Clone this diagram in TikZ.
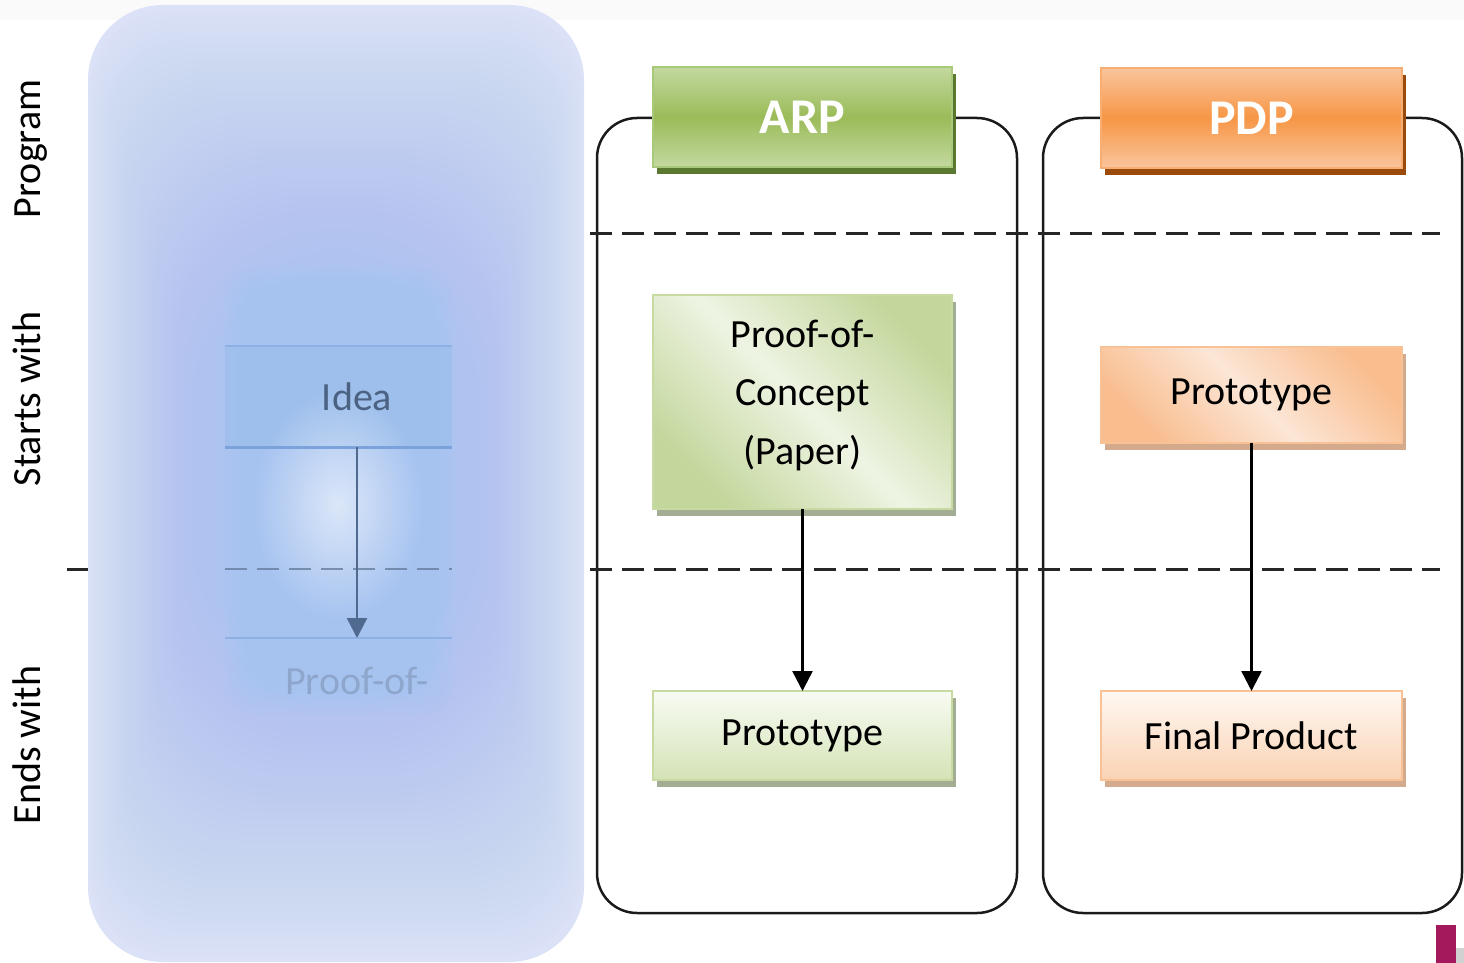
\documentclass[tikz,border=0pt]{standalone}
\usepackage{fontspec}
\setmainfont{Carlito}
\usetikzlibrary{arrows.meta,shadows,fadings}

\definecolor{panelC}{HTML}{AEC3F0}
\definecolor{panelE}{HTML}{DBE1F7}
\definecolor{ghost}{HTML}{A6CBF2}
\definecolor{bandc}{HTML}{98BCEA}
\definecolor{bandline}{HTML}{8DB1E4}
\definecolor{bandline2}{HTML}{7BA2DA}
\definecolor{ideatext}{HTML}{4B6282}
\definecolor{ghostarrow}{HTML}{4F6A8E}
\definecolor{ghostdash}{HTML}{5B7292}
\definecolor{ghosttext}{HTML}{8FA6CC}
\definecolor{framec}{HTML}{1A1A1A}
\definecolor{arplt}{HTML}{C3D99F}
\definecolor{arpmid}{HTML}{9BBB59}
\definecolor{arpbd}{HTML}{A9C97A}
\definecolor{arpsh}{HTML}{5B7830}
\definecolor{pdplt}{HTML}{F9C59C}
\definecolor{pdpmid}{HTML}{F79646}
\definecolor{pdpbd}{HTML}{F8AE72}
\definecolor{pdpsh}{HTML}{9A4A0B}
\definecolor{pocg}{HTML}{C3D69B}
\definecolor{poclt}{HTML}{EEF4E3}
\definecolor{pocbd}{HTML}{C6DAA2}
\definecolor{pocsh}{HTML}{A3AD93}
\definecolor{protolt}{HTML}{F8FBF3}
\definecolor{protodk}{HTML}{D4E3B6}
\definecolor{ppg}{HTML}{F9BD8E}
\definecolor{pplt}{HTML}{FCE6D6}
\definecolor{ppbd}{HTML}{F9C296}
\definecolor{ppsh}{HTML}{D4AA8C}
\definecolor{finlt}{HTML}{FFF8F2}
\definecolor{findk}{HTML}{FAD2B3}
\definecolor{magc}{HTML}{A3195B}

\tikzfading[name=softspot, inner color=transparent!0, outer color=transparent!100]

\begin{document}
\begin{tikzpicture}[x=1pt,y=-1pt,
  every node/.style={inner sep=0pt, outer sep=0pt},
  lbl/.style={font=\fontsize{40}{48}\selectfont, rotate=90, anchor=base},
  frame/.style={draw=framec, line width=2.5pt, rounded corners=40pt},
  sep/.style={draw=black!85, line width=3pt, dash pattern=on 22pt off 10pt},
  hdr/.style={font=\fontsize{50}{60}\selectfont\bfseries, text=white, minimum width=299pt, minimum height=100pt, line width=2pt},
  box/.style={font=\fontsize{40}{58.5}\selectfont, align=center, minimum width=299pt, line width=2pt},
  link/.style={draw=black, line width=2.5pt, -{Triangle[length=20pt,width=20pt]}},
  glink/.style={draw=ghostarrow, line width=2.5pt, -{Triangle[length=20pt,width=20pt]}},
]
\useasboundingbox (0,0) rectangle (1464,963);
\fill[black!2] (0,0) rectangle (1464,20);

% blurred left panel
\fill[panelE, rounded corners=75pt] (88,5) rectangle (584,962);
\foreach \i in {1,...,40} {
  \fill[panelC, opacity=0.03, rounded corners={75+\i*2.2}] ({88+\i*2.9},{5+\i*6.8}) rectangle ({584-\i*2.9},{962-\i*7.5});
}
\foreach \i in {0,...,14} {
  \fill[ghost, opacity=0.07, rounded corners=28pt] ({222+\i*2.5},{265+\i*2.5}) rectangle ({455-\i*2.5},{715-\i*2.5});
}
\fill[bandc, opacity=0.55] (225,346) rectangle (452,447);
\fill[white, path fading=softspot, opacity=0.6] (338,505) ellipse (85 and 115);
\draw[bandline, line width=2pt] (225,346) -- (452,346);
\draw[bandline2, line width=3pt] (225,447) -- (452,447);
\draw[bandline, line width=2pt] (225,638) -- (452,638);
\draw[ghostdash, opacity=0.7, line width=2.5pt, dash pattern=on 22pt off 10pt] (225,569) -- (452,569);
\node[font=\fontsize{40}{48}\selectfont, text=ideatext, minimum height=101pt] (idea) at (357,396.5) {Idea};
\coordinate (gend) at (357,638);
\draw[glink] (idea.south) -- (gend);
\node[font=\fontsize{40}{48}\selectfont, text=ghosttext] (gpoc) at (357,681) {Proof-of-};

% frames
\draw[frame] (597,118) rectangle (1017,913);
\draw[frame] (1043,118) rectangle (1462,913);

% separators
\draw[sep] (67,569) -- (88,569);
\draw[sep] (590,233) -- (1440,233);
\draw[sep] (590,569) -- (1440,569);

% headers
\node[hdr, draw=arpbd, top color=arplt, bottom color=arplt, middle color=arpmid,
  drop shadow={shadow xshift=4pt, shadow yshift=-7pt, fill=arpsh, opacity=1}] (arp) at (802.5,117) {ARP};
\node[hdr, minimum width=301pt, draw=pdpbd, top color=pdplt, bottom color=pdplt, middle color=pdpmid,
  drop shadow={shadow xshift=4pt, shadow yshift=-7pt, fill=pdpsh, opacity=1}] (pdp) at (1251.5,118) {PDP};

% ARP column
\node[box, minimum height=214pt, draw=pocbd, left color=pocg, right color=pocg, middle color=poclt, shading angle=-45,
  drop shadow={shadow xshift=4pt, shadow yshift=-7pt, fill=pocsh, opacity=1}] (poc) at (802.5,402) {Proof-of-\\Concept\\(Paper)\rule[-20pt]{0pt}{20pt}};
\node[box, minimum height=89pt, draw=pocbd, top color=protolt, bottom color=protodk,
  drop shadow={shadow xshift=4pt, shadow yshift=-7pt, fill=pocsh, opacity=1}] (aproto) at (802.5,735.5) {Prototype};

% PDP column
\node[box, minimum width=301pt, minimum height=96pt, draw=ppbd, left color=ppg, right color=ppg, middle color=pplt, shading angle=-45,
  drop shadow={shadow xshift=4pt, shadow yshift=-7pt, fill=ppsh, opacity=1}] (pproto) at (1251.5,395) {Prototype};
\node[box, minimum width=301pt, minimum height=89pt, draw=ppbd, top color=finlt, bottom color=findk,
  drop shadow={shadow xshift=4pt, shadow yshift=-7pt, fill=ppsh, opacity=1}] (final) at (1251.5,735.5) {Final Product};

% connectors
\draw[link] (poc) -- (aproto);
\draw[link] (pproto) -- (final);

% row labels
\node[lbl] (lprog) at (40,149) {Program};
\node[lbl] (lstart) at (40,399) {Starts with};
\node[lbl] (lend) at (40,745) {Ends with};

% corner mark
\fill[magc] (1436,925) rectangle (1456,963);
\fill[black!18] (1456,948) rectangle (1464,963);
\end{tikzpicture}
\end{document}
